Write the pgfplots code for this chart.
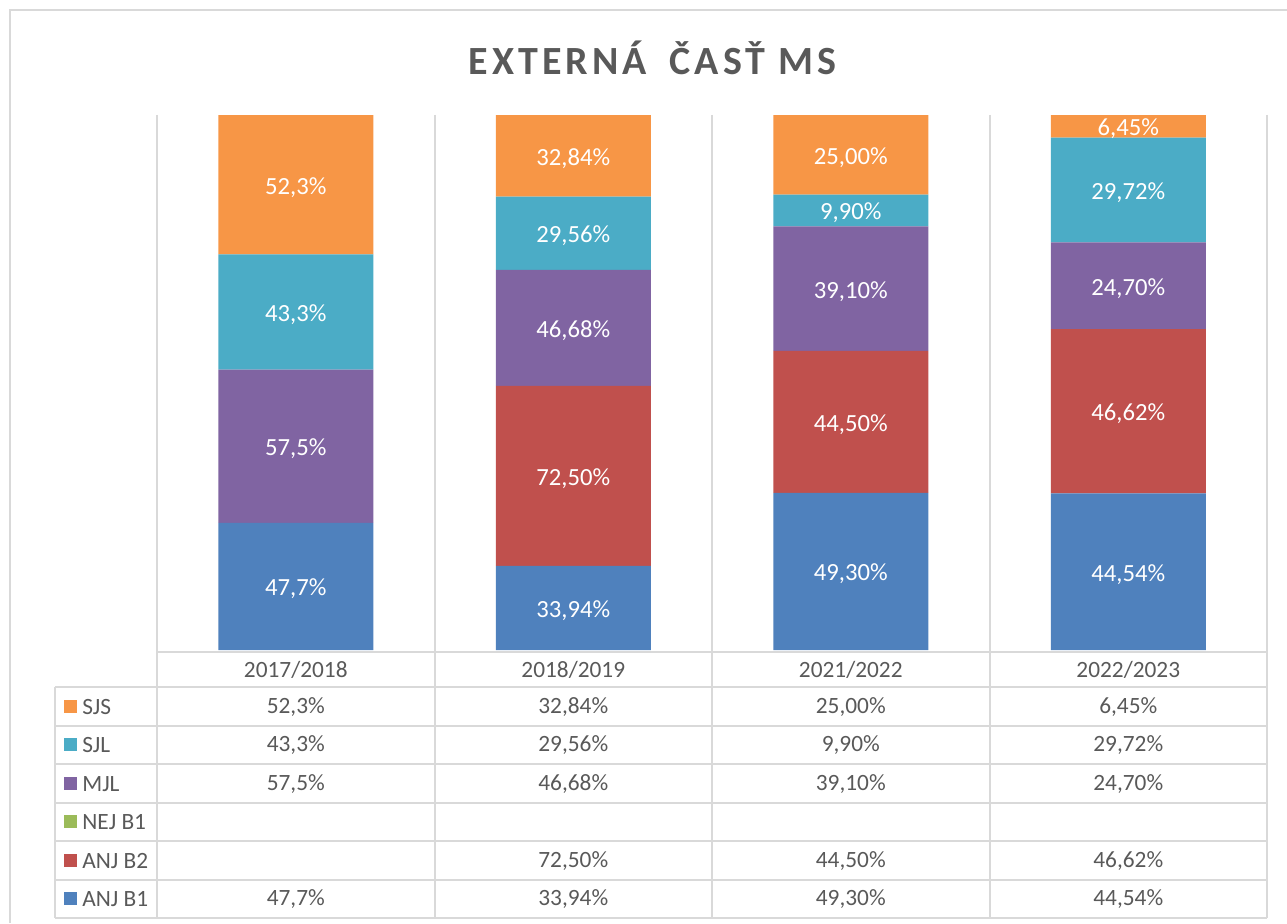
\documentclass[border=0pt]{standalone}
\usepackage{fontspec}
\setmainfont{Carlito}
\newfontfamily\titlefont[LetterSpace=10]{Carlito}
\usepackage{pgfplots}
\usepackage{pgfplotstable}
\pgfplotsset{compat=1.18}

\definecolor{cSJS}{HTML}{F79646}
\definecolor{cSJL}{HTML}{4BACC6}
\definecolor{cMJL}{HTML}{8064A2}
\definecolor{cNEJ}{HTML}{9BBB59}
\definecolor{cABb}{HTML}{C0504D}
\definecolor{cABa}{HTML}{4F81BD}
\definecolor{txt}{HTML}{595959}
\definecolor{grd}{HTML}{D9D9D9}

% values as typed in the sheet (percent); each column is scaled to 100 (100% stacked)
\pgfplotstableread{
x ab1   ab2   mjl   sjl   sjs   lab1      lab2      lmjl      lsjl      lsjs
0 47.7  0     57.5  43.3  52.3  47,7\%    {}        57,5\%    43,3\%    52,3\%
1 33.94 72.50 46.68 29.56 32.84 33,94\%   72,50\%   46,68\%   29,56\%   32,84\%
2 49.30 44.50 39.10 9.90  25.00 49,30\%   44,50\%   39,10\%   9,90\%    25,00\%
3 44.54 46.62 24.70 29.72 6.45  44,54\%   46,62\%   24,70\%   29,72\%   6,45\%
}\data

\newcommand\tot{(\thisrow{ab1}+\thisrow{ab2}+\thisrow{mjl}+\thisrow{sjl}+\thisrow{sjs})}

\begin{document}
\begin{tikzpicture}[x=0.6pt,y=0.6pt]
\path[use as bounding box] (0,0) rectangle (1287,923);

\begin{scope}[shift={(0,923)},yscale=-1]
  % chart frame
  \draw[grd,line width=1.2pt] (10,923) -- (10,10) -- (1287,10);
  % grid / data table lines
  \foreach \xx in {157,434.5,712,989.5,1267}
    \draw[grd,line width=1.2pt] (\xx,115) -- (\xx,917.5);
  \draw[grd,line width=1.2pt] (157,651.5) -- (1267,651.5);
  \foreach \yy in {687,725.5,764,802.5,841,879.5,917.5}
    \draw[grd,line width=1.2pt] (55,\yy) -- (1267,\yy);
  \draw[grd,line width=1.2pt] (55,687) -- (55,917.5);
  % title
  \node[text=txt,font=\titlefont\bfseries\fontsize{24}{28}\selectfont] at (652.5,57.5) {EXTERNÁ\hspace{0.25em} ČASŤ MS};
\end{scope}

\begin{axis}[
    at={(94.2pt,163.8pt)}, anchor=south west,
    width=666pt, height=321pt, scale only axis,
    xmin=-0.5, xmax=3.5, ymin=0, ymax=100,
    axis lines=none, clip=false,
    ybar stacked, bar width=93pt,
    point meta=explicit symbolic,
    nodes near coords,
    every node near coord/.append style={text=white, yshift=-1.6pt,
        font=\fontsize{14.8}{17}\selectfont},
]
\addplot[fill=cABa, draw=none]
    table[x=x, y expr=\thisrow{ab1}*100/\tot, meta=lab1] {\data};
\addplot[fill=cABb, draw=none]
    table[x=x, y expr=\thisrow{ab2}*100/\tot, meta=lab2] {\data};
\addplot[fill=cMJL, draw=none]
    table[x=x, y expr=\thisrow{mjl}*100/\tot, meta=lmjl] {\data};
\addplot[fill=cSJL, draw=none]
    table[x=x, y expr=\thisrow{sjl}*100/\tot, meta=lsjl] {\data};
\addplot[fill=cSJS, draw=none]
    table[x=x, y expr=\thisrow{sjs}*100/\tot, meta=lsjs] {\data};
\end{axis}

\begin{scope}[shift={(0,923)},yscale=-1,
    every node/.style={text=txt,font=\fontsize{14}{16}\selectfont}]
  % header row
  \foreach \lab [count=\i from 0] in {2017/2018,2018/2019,2021/2022,2022/2023}
    \node at (295.75+277.5*\i,670) {\lab};
  % series names with colour keys
  \foreach \nm/\cc [count=\r from 0] in {SJS/cSJS,SJL/cSJL,MJL/cMJL,NEJ B1/cNEJ,ANJ B2/cABb,ANJ B1/cABa} {
    \fill[\cc] (64,706.25+38.5*\r-6.3) rectangle ++(12.7,12.6);
    \node[anchor=west,inner sep=0pt] at (82,707+38.5*\r) {\nm};
  }
  % table values
  \foreach \a/\b/\c/\d [count=\r from 0] in {
      52{,}3\%/32{,}84\%/25{,}00\%/6{,}45\%,
      43{,}3\%/29{,}56\%/9{,}90\%/29{,}72\%,
      57{,}5\%/46{,}68\%/39{,}10\%/24{,}70\%,
      {}/{}/{}/{},
      {}/72{,}50\%/44{,}50\%/46{,}62\%,
      47{,}7\%/33{,}94\%/49{,}30\%/44{,}54\%} {
    \node at (295.75,707+38.5*\r) {\a};
    \node at (573.25,707+38.5*\r) {\b};
    \node at (850.75,707+38.5*\r) {\c};
    \node at (1128.25,707+38.5*\r) {\d};
  }
\end{scope}
\end{tikzpicture}
\end{document}
